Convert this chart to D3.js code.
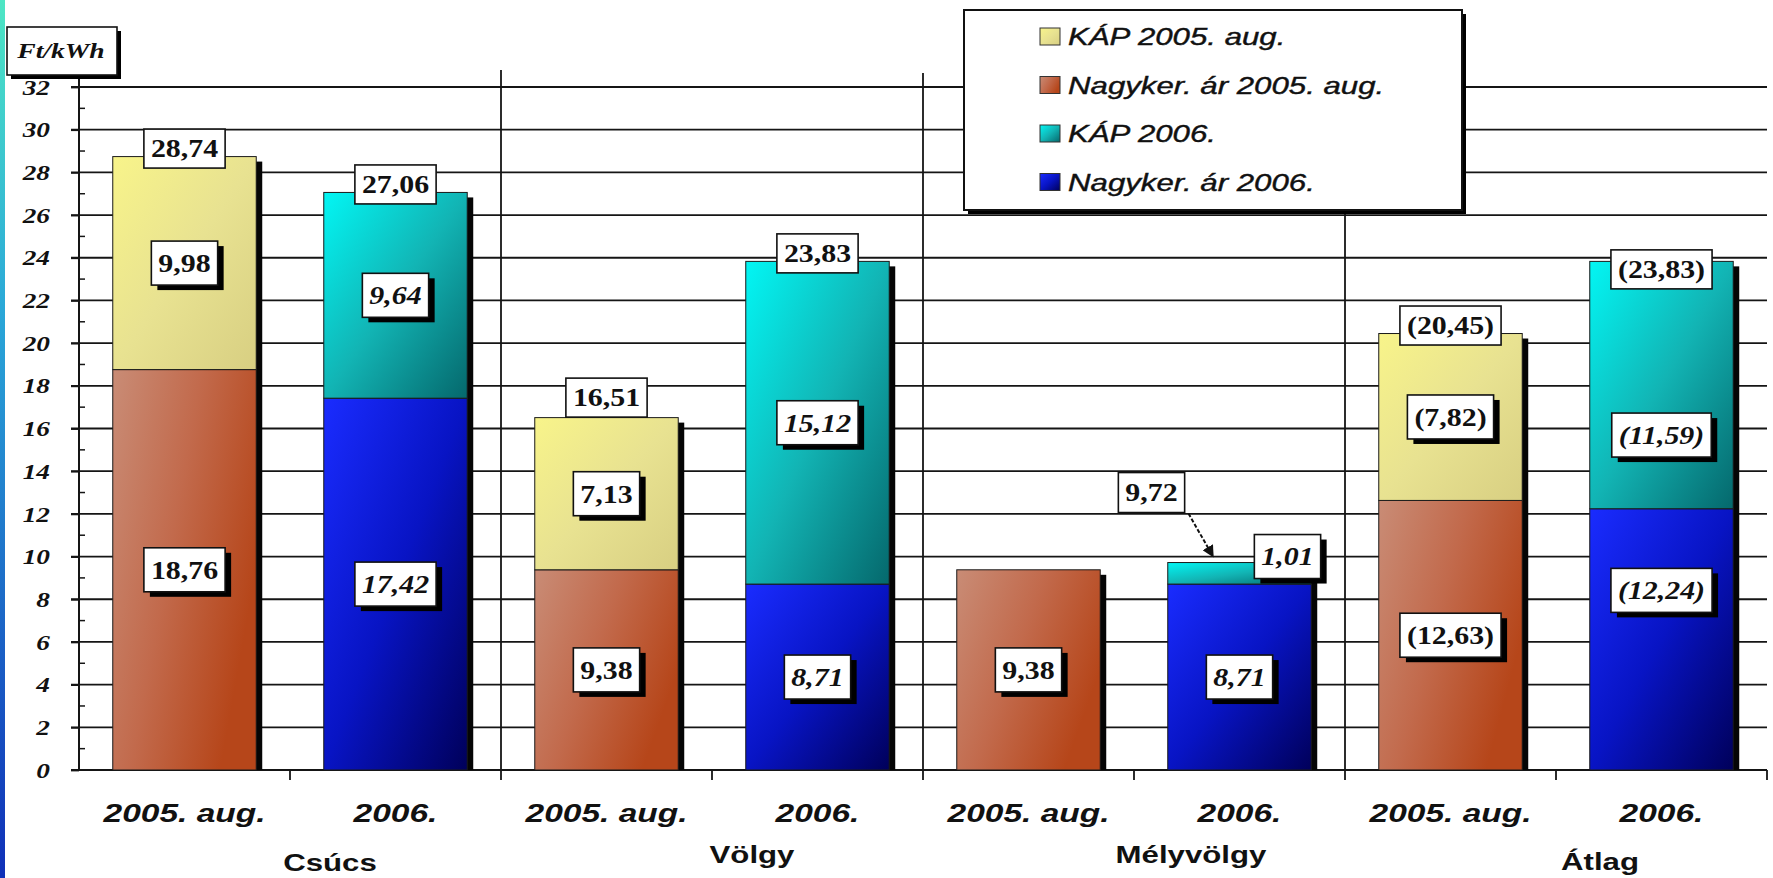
<!DOCTYPE html>
<html>
<head>
<meta charset="utf-8">
<script src="https://cdn.jsdelivr.net/npm/d3@7"></script>
<style>
  body { margin: 0; background: #fff; }
</style>
</head>
<body>
<div id="chart"></div>
<script>
// data (Ft/kWh)
var groups = ["Csúcs", "Völgy", "Mélyvölgy", "Átlag"];
var periods = ["2005. aug.", "2006."];
var nagyker2005 = [18.76, 9.38, 9.38, 12.63];
var kap2005 = [9.98, 7.13, 0, 7.82];
var nagyker2006 = [17.42, 8.71, 8.71, 12.24];
var kap2006 = [9.64, 15.12, 1.01, 11.59];
var yTicks = d3.range(0, 33, 2);
var legendLabels = ["KÁP 2005. aug.", "Nagyker. ár 2005. aug.", "KÁP 2006.", "Nagyker. ár 2006."];
var unitLabel = "Ft/kWh";

var svgWidth = 1773;
var svgHeight = 878;

var margin = {
  top: 87,
  right: 6,
  bottom: 108,
  left: 79
};

var width = svgWidth - margin.left - margin.right;
var height = svgHeight - margin.top - margin.bottom;

var serif = "'Liberation Serif', 'Times New Roman', serif";
var sans = "'Liberation Sans', Arial, sans-serif";

var svg = d3
  .select("#chart")
  .append("svg")
  .attr("width", svgWidth)
  .attr("height", svgHeight);

// gradients for the bar fills
var defs = svg.append("defs");
function addGrad(id, stops, x2, y2) {
  var g = defs.append("linearGradient")
    .attr("id", id)
    .attr("x1", 0).attr("y1", 0)
    .attr("x2", x2).attr("y2", y2);
  stops.forEach(function(s) {
    g.append("stop").attr("offset", s[0]).attr("stop-color", s[1]);
  });
}
addGrad("gBrown", [[0, "#c98c76"], [0.5, "#c26a4c"], [1, "#b6461a"]], 1, 0.5);
addGrad("gYellow", [[0, "#f8f48a"], [0.5, "#e8e291"], [1, "#d8cf82"]], 1, 1);
addGrad("gCyan", [[0, "#02f6f4"], [0.5, "#12b4b4"], [1, "#05686c"]], 1, 1);
addGrad("gBlue", [[0, "#1a2cff"], [0.5, "#0814c4"], [1, "#00005a"]], 1, 1);
addGrad("gStrip", [[0, "#4ee6c4"], [0.35, "#2aa8d8"], [1, "#1030b8"]], 0, 1);

svg.append("rect")
  .attr("x", 0).attr("y", 0)
  .attr("width", 5).attr("height", svgHeight)
  .attr("fill", "url(#gStrip)");

var chartGroup = svg.append("g")
  .attr("transform", `translate(${margin.left}, ${margin.top})`);

// one row per bar
var rows = [];
groups.forEach(function(g, i) {
  rows.push({ group: g, period: periods[0], low: nagyker2005[i], up: kap2005[i],
    lowFill: "url(#gBrown)", upFill: "url(#gYellow)", italic: false });
  rows.push({ group: g, period: periods[1], low: nagyker2006[i], up: kap2006[i],
    lowFill: "url(#gBlue)", upFill: "url(#gCyan)", italic: true });
});
rows.forEach(function(d) {
  d.key = d.group + "|" + d.period;
  d.total = Math.round((d.low + d.up) * 100) / 100;
});

var xScale = d3.scaleBand()
  .domain(rows.map(d => d.key))
  .range([0, width])
  .paddingInner(0.32)
  .paddingOuter(0.16);

var yScale = d3.scaleLinear()
  .domain([0, 32])
  .range([height, 0]);

var bw = xScale.bandwidth();
var step = xScale.step();

// horizontal gridlines
chartGroup.append("g")
  .selectAll("line")
  .data(yTicks)
  .enter()
  .append("line")
  .attr("x1", -8)
  .attr("x2", width)
  .attr("y1", d => yScale(d))
  .attr("y2", d => yScale(d))
  .attr("stroke", "#151515")
  .attr("stroke-width", 1.8);

// group separators
var sepTops = [-17, -14, 123];
[2, 4, 6].forEach(function(b, i) {
  chartGroup.append("line")
    .attr("x1", b * step).attr("x2", b * step)
    .attr("y1", sepTops[i]).attr("y2", height)
    .attr("stroke", "#151515")
    .attr("stroke-width", 1.8);
});

// y axis
var leftAxis = d3.axisLeft(yScale)
  .tickValues(yTicks)
  .tickSize(8)
  .tickSizeOuter(0)
  .tickFormat(d3.format("d"));

var yAxis = chartGroup.append("g").call(leftAxis);
yAxis.select(".domain").remove();
yAxis.selectAll(".tick line").attr("stroke", "#151515").attr("stroke-width", 1.8);
yAxis.selectAll(".tick text")
  .attr("x", -29 / 1.3)
  .attr("dy", "0.34em")
  .attr("transform", "scale(1.3,1)")
  .style("font-family", serif)
  .style("font-weight", "bold")
  .style("font-style", "italic")
  .style("font-size", "21px")
  .attr("fill", "#111");

chartGroup.append("line")
  .attr("x1", 0).attr("x2", 0)
  .attr("y1", yScale(32) - 9).attr("y2", height)
  .attr("stroke", "#151515").attr("stroke-width", 2);

chartGroup.append("g")
  .selectAll("line")
  .data(d3.range(1, 32, 2))
  .enter()
  .append("line")
  .attr("x1", 0).attr("x2", 6)
  .attr("y1", d => yScale(d)).attr("y2", d => yScale(d))
  .attr("stroke", "#151515").attr("stroke-width", 1.5);

// x axis line and ticks at category borders
chartGroup.append("line")
  .attr("x1", 0).attr("x2", width)
  .attr("y1", height).attr("y2", height)
  .attr("stroke", "#151515").attr("stroke-width", 2);

chartGroup.append("g")
  .selectAll("line")
  .data(d3.range(1, rows.length + 1))
  .enter()
  .append("line")
  .attr("x1", d => d * step).attr("x2", d => d * step)
  .attr("y1", height).attr("y2", height + 10)
  .attr("stroke", "#151515").attr("stroke-width", 1.8);

// bars: shadow, lower and upper segment
var barsGroup = chartGroup.selectAll(".bar")
  .data(rows)
  .enter()
  .append("g")
  .attr("class", "bar");

barsGroup.append("rect")
  .attr("x", d => xScale(d.key) + 6)
  .attr("y", d => yScale(d.total) + 5)
  .attr("width", bw)
  .attr("height", d => height - yScale(d.total) - 5)
  .attr("fill", "#050505");

barsGroup.append("rect")
  .attr("x", d => xScale(d.key))
  .attr("y", d => yScale(d.low))
  .attr("width", bw)
  .attr("height", d => height - yScale(d.low))
  .attr("fill", d => d.lowFill)
  .attr("stroke", "#1a1a1a")
  .attr("stroke-width", 1);

barsGroup.filter(d => d.up > 0)
  .append("rect")
  .attr("x", d => xScale(d.key))
  .attr("y", d => yScale(d.total))
  .attr("width", bw)
  .attr("height", d => yScale(d.low) - yScale(d.total))
  .attr("fill", d => d.upFill)
  .attr("stroke", "#1a1a1a")
  .attr("stroke-width", 1);

// value label boxes
var fmt = d3.format(".2f");
function numText(v, bracket) {
  var s = fmt(v).replace(".", ",");
  return bracket ? "(" + s + ")" : s;
}

function labelBox(cx, cy, txt, italic, shadow, h) {
  var g = chartGroup.append("g")
    .attr("transform", `translate(${cx}, ${cy})`);
  var sh = g.append("rect");
  var box = g.append("rect");
  var t = g.append("g")
    .attr("transform", "scale(1.15,1)")
    .append("text")
    .attr("text-anchor", "middle")
    .attr("dy", "0.34em")
    .style("font-family", serif)
    .style("font-weight", "bold")
    .style("font-style", italic ? "italic" : "normal")
    .style("font-size", "26px")
    .attr("fill", "#111")
    .text(txt);
  var w = t.node().getComputedTextLength() * 1.15 + 14;
  if (shadow) {
    sh.attr("x", -w / 2 + 6).attr("y", -h / 2 + 5)
      .attr("width", w).attr("height", h)
      .attr("fill", "#000");
  }
  box.attr("x", -w / 2).attr("y", -h / 2)
    .attr("width", w).attr("height", h)
    .attr("fill", "#fff")
    .attr("stroke", "#111")
    .attr("stroke-width", 1.6);
  return g;
}

// small layout nudges (px) for labels the slide moved by hand
var labelNudge = {
  "Átlag|2006.": { low: -49, up: 50, total: 16 },
  "Völgy|2005. aug.": { total: -12 }
};

rows.forEach(function(d) {
  var cx = xScale(d.key) + bw / 2;
  var n = labelNudge[d.key] || {};
  var bracket = d.group === "Átlag";
  labelBox(cx, yScale(d.low / 2) + (n.low || 0), numText(d.low, bracket), d.italic, true, 44);
  if (d.up <= 0) return;
  if (d.group === "Mélyvölgy") {
    // thin segment: value beside the bar, total as a call-out with an arrow
    labelBox(cx + 48, yScale(d.total) - 6, numText(d.up, bracket), d.italic, true, 44);
    labelBox(cx - 88, yScale(d.total) - 70, numText(d.total, bracket), false, false, 40);
    chartGroup.append("line")
      .attr("x1", cx - 51).attr("y1", yScale(d.total) - 49)
      .attr("x2", cx - 27).attr("y2", yScale(d.total) - 7)
      .attr("stroke", "#111")
      .attr("stroke-width", 2)
      .attr("stroke-dasharray", "4,2")
      .attr("marker-end", "url(#arrow)");
    return;
  }
  labelBox(cx, yScale(d.low + d.up / 2) + (n.up || 0), numText(d.up, bracket), d.italic, true, 44);
  labelBox(cx, yScale(d.total) - 8 + (n.total || 0), numText(d.total, bracket), false, false, 39);
});

defs.append("marker")
  .attr("id", "arrow")
  .attr("viewBox", "0 0 10 10")
  .attr("refX", 8).attr("refY", 5)
  .attr("markerWidth", 6).attr("markerHeight", 6)
  .attr("markerUnits", "strokeWidth")
  .attr("orient", "auto")
  .append("path")
  .attr("d", "M0,0 L10,5 L0,10 z")
  .attr("fill", "#111");

// stretched text helper (the slide text is wide)
function wideText(parent, x, y, txt, sx, font, size, weight, style) {
  return parent.append("g")
    .attr("transform", `translate(${x}, ${y}) scale(${sx},1)`)
    .append("text")
    .attr("text-anchor", "middle")
    .style("font-family", font)
    .style("font-size", size + "px")
    .style("font-weight", weight)
    .style("font-style", style)
    .attr("fill", "#111")
    .text(txt);
}

// category labels
rows.forEach(function(d) {
  wideText(chartGroup, xScale(d.key) + bw / 2, 735, d.period, 1.34, sans, 25, "bold", "italic");
});

// group labels
var groupDx = [40, 40, 57, 44];
var groupY = [784, 776, 776, 783];
groups.forEach(function(g, i) {
  wideText(chartGroup, (2 * i + 1) * step + groupDx[i], groupY[i], g, 1.3, sans, 24, "bold", "normal");
});

// legend
var legend = svg.append("g");
legend.append("rect")
  .attr("x", 968).attr("y", 14)
  .attr("width", 498).attr("height", 200)
  .attr("fill", "#000");
legend.append("rect")
  .attr("x", 964).attr("y", 10)
  .attr("width", 498).attr("height", 200)
  .attr("fill", "#fff")
  .attr("stroke", "#111")
  .attr("stroke-width", 2);

var legendFills = ["url(#gYellow)", "url(#gBrown)", "url(#gCyan)", "url(#gBlue)"];
legendLabels.forEach(function(lab, i) {
  var base = 45 + i * 48.5;
  legend.append("rect")
    .attr("x", 1040).attr("y", base - 17)
    .attr("width", 20).attr("height", 17)
    .attr("fill", legendFills[i])
    .attr("stroke", "#333")
    .attr("stroke-width", 1);
  legend.append("g")
    .attr("transform", `translate(1068, ${base}) scale(1.3,1)`)
    .append("text")
    .style("font-family", sans)
    .style("font-size", "24px")
    .style("font-style", "italic")
    .attr("fill", "#111")
    .attr("stroke", "#111")
    .attr("stroke-width", 0.4)
    .text(lab);
});

// unit box
svg.append("rect")
  .attr("x", 11).attr("y", 31)
  .attr("width", 110).attr("height", 48)
  .attr("fill", "#000");
svg.append("rect")
  .attr("x", 7).attr("y", 27)
  .attr("width", 110).attr("height", 48)
  .attr("fill", "#fff")
  .attr("stroke", "#111")
  .attr("stroke-width", 1.6);
wideText(svg, 61, 58, unitLabel, 1.38, serif, 20, "bold", "italic");
</script>
</body>
</html>
